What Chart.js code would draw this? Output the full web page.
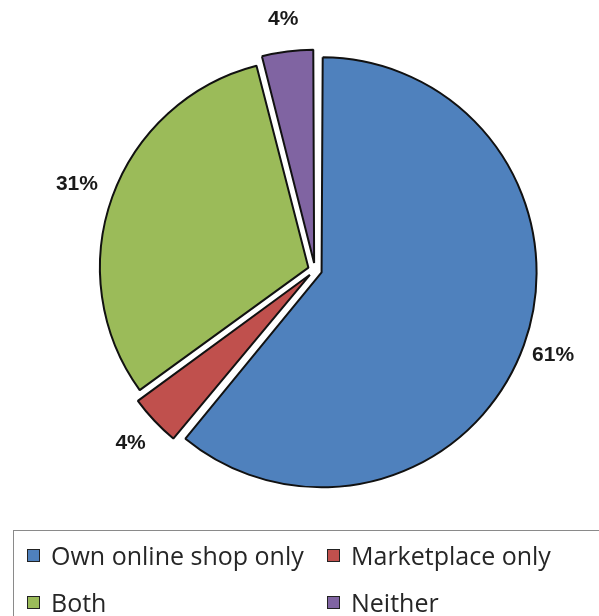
<!DOCTYPE html>
<html>
<head>
<meta charset="utf-8">
<script src="https://cdn.jsdelivr.net/npm/chart.js@4/dist/chart.umd.min.js"></script>
<style>
  body { margin: 0; background: #fff; width: 599px; height: 616px; overflow: hidden; position: relative; }
  #pie { position: absolute; left: 0; top: 0; }
  #legend {
    position: absolute; left: 13px; top: 530px; width: 640px; height: 120px;
    border: 1px solid #8a8a8a; box-sizing: border-box;
    font-family: "Open Sans", sans-serif; font-size: 25px; color: #262626;
  }
  .item { position: absolute; display: flex; align-items: center; white-space: nowrap; height: 30px; }
  .box { width: 11px; height: 11px; border: 1.5px solid #222; margin-right: 11px; }
</style>
</head>
<body>
<canvas id="pie" width="599" height="540"></canvas>
<div id="legend"></div>
<script>
const categories = ["Own online shop only", "Marketplace only", "Both", "Neither"];
const shares = [61, 4, 31, 4];
const colors = ["#4F81BD", "#C0504D", "#9BBB59", "#8064A2"];

const labelPlugin = {
  id: "sliceLabels",
  afterDatasetsDraw(chart) {
    const ctx = chart.ctx;
    const meta = chart.getDatasetMeta(0);
    ctx.save();
    ctx.font = "bold 21px 'Liberation Sans', sans-serif";
    ctx.fillStyle = "#1a1a1a";
    ctx.textAlign = "center";
    ctx.textBaseline = "middle";
    meta.data.forEach(function (arc, i) {
      const p = arc.getProps(["x", "y", "startAngle", "endAngle", "outerRadius"], true);
      const mid = (p.startAngle + p.endAngle) / 2;
      const d = p.outerRadius + 45;
      ctx.fillText(shares[i] + "%", p.x + Math.cos(mid) * d, p.y + Math.sin(mid) * d);
    });
    ctx.restore();
  }
};

new Chart(document.getElementById("pie"), {
  type: "pie",
  data: {
    labels: categories,
    datasets: [
      {
        data: shares,
        backgroundColor: colors,
        borderColor: "#111",
        borderWidth: 2,
        offset: 28,
      },
    ],
  },
  options: {
    responsive: false,
    animation: false,
    radius: 208,
    layout: { padding: { left: 31, right: 0, top: 0, bottom: 0 } },
    plugins: {
      legend: { display: false },
      tooltip: { enabled: false },
    },
  },
  plugins: [labelPlugin],
});

// legend laid out in two columns like the original
const legend = document.getElementById("legend");
const spots = [[13, 9], [313, 9], [13, 56], [313, 56]];
categories.forEach(function (name, i) {
  const item = document.createElement("div");
  item.className = "item";
  item.style.left = spots[i][0] + "px";
  item.style.top = spots[i][1] + "px";
  const box = document.createElement("span");
  box.className = "box";
  box.style.background = colors[i];
  item.appendChild(box);
  const txt = document.createElement("span");
  txt.textContent = name;
  item.appendChild(txt);
  legend.appendChild(item);
});
</script>
</body>
</html>
